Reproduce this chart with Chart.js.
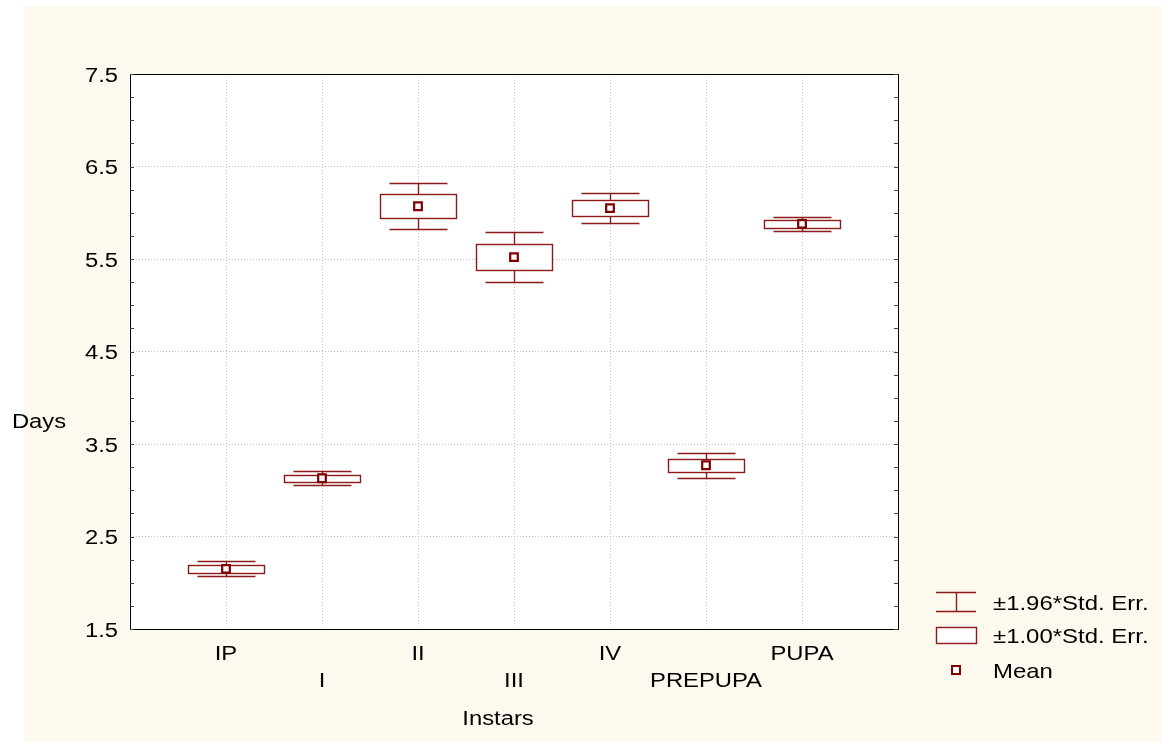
<!DOCTYPE html>
<html>
<head>
<meta charset="utf-8">
<script src="https://cdn.jsdelivr.net/npm/chart.js@4.4.1/dist/chart.umd.min.js"></script>
<style>
  html, body { margin: 0; padding: 0; background: #fff; }
  #chart { display: block; }
</style>
</head>
<body>
<canvas id="chart" width="1161" height="742"></canvas>
<script>
// data
const categories = ['IP', 'I', 'II', 'III', 'IV', 'PREPUPA', 'PUPA'];
const means = [2.15, 3.13, 6.07, 5.52, 6.05, 3.27, 5.88];
const stdErr = [0.042, 0.038, 0.128, 0.138, 0.083, 0.070, 0.040];
const yMajorTicks = [1.5, 2.5, 3.5, 4.5, 5.5, 6.5, 7.5];
const legendLabels = ['±1.96*Std. Err.', '±1.00*Std. Err.', 'Mean'];
const xTitle = 'Instars';
const yTitle = 'Days';

const LINE = '#8b1a1a';
const MEAN = '#800000';
const CREAM = '#fef9ee';
const BOX_HALF = 0.4;     // in category units
const WHISKER_HALF = 0.3;
const FAMILY = 'Arial, "Liberation Sans", sans-serif';

const isMajor = v => yMajorTicks.some(t => Math.abs(t - v) < 1e-6);

// the source text is a little wider than plain Arial, so stretch it
function wideText(ctx, text, x, y, align, size = 20, stretch = 1.19) {
    ctx.save();
    ctx.translate(x, y);
    ctx.scale(stretch, 1);
    ctx.font = size + 'px ' + FAMILY;
    ctx.fillStyle = '#000';
    ctx.textAlign = align;
    ctx.textBaseline = 'middle';
    ctx.fillText(text, 0, 0);
    ctx.restore();
}

const boxPlugin = {
    id: 'boxPlugin',
    beforeDraw(chart) {
        const { ctx, chartArea: a } = chart;
        ctx.save();
        ctx.fillStyle = '#fff';
        ctx.fillRect(0, 0, chart.width, chart.height);
        ctx.fillStyle = CREAM;
        ctx.fillRect(24, 6, chart.width - 24, chart.height - 6);
        ctx.fillStyle = '#fff';
        ctx.fillRect(a.left, a.top, a.right - a.left, a.bottom - a.top);
        ctx.restore();
    },
    beforeDatasetsDraw(chart) {
        const { ctx, scales: { x, y } } = chart;
        ctx.save();
        ctx.strokeStyle = LINE;
        ctx.lineWidth = 1.4;
        means.forEach((m, i) => {
            const cx = Math.round(x.getPixelForValue(i + 1)) + 0.5;
            const wTop = Math.round(y.getPixelForValue(m + 1.96 * stdErr[i])) + 0.5;
            const wBot = Math.round(y.getPixelForValue(m - 1.96 * stdErr[i])) + 0.5;
            const bTop = Math.round(y.getPixelForValue(m + stdErr[i])) + 0.5;
            const bBot = Math.round(y.getPixelForValue(m - stdErr[i])) + 0.5;
            const wl = Math.round(x.getPixelForValue(i + 1 - WHISKER_HALF)) + 0.5;
            const wr = Math.round(x.getPixelForValue(i + 1 + WHISKER_HALF)) + 0.5;
            const bl = Math.round(x.getPixelForValue(i + 1 - BOX_HALF)) + 0.5;
            const br = Math.round(x.getPixelForValue(i + 1 + BOX_HALF)) + 0.5;

            ctx.beginPath();
            ctx.moveTo(cx, wTop); ctx.lineTo(cx, wBot);
            ctx.moveTo(wl, wTop); ctx.lineTo(wr, wTop);
            ctx.moveTo(wl, wBot); ctx.lineTo(wr, wBot);
            ctx.stroke();

            ctx.fillStyle = '#fff';
            ctx.fillRect(bl, bTop, br - bl, bBot - bTop);
            ctx.strokeRect(bl, bTop, br - bl, bBot - bTop);
        });
        ctx.restore();
    },
    afterDraw(chart) {
        const { ctx, chartArea: a, scales: { x, y } } = chart;
        ctx.save();
        // frame
        ctx.strokeStyle = '#000';
        ctx.lineWidth = 1;
        ctx.strokeRect(Math.round(a.left) + 0.5, Math.round(a.top) + 0.5,
            Math.round(a.right - a.left), Math.round(a.bottom - a.top));
        // inner ticks every 0.25 on both sides
        ctx.strokeStyle = '#444';
        ctx.beginPath();
        y.ticks.forEach(t => {
            const py = Math.round(y.getPixelForValue(t.value)) + 0.5;
            ctx.moveTo(a.left, py); ctx.lineTo(a.left + 4, py);
            ctx.moveTo(a.right - 4, py); ctx.lineTo(a.right, py);
        });
        ctx.stroke();
        ctx.restore();

        // tick labels
        yMajorTicks.forEach(v => {
            wideText(ctx, v.toFixed(1), a.left - 12, y.getPixelForValue(v) + 2, 'right');
        });
        categories.forEach((c, i) => {
            const row = i % 2 === 1 ? 681 : 654;
            wideText(ctx, c, x.getPixelForValue(i + 1), row, 'center');
        });

        // axis titles
        wideText(ctx, yTitle, 39, 422, 'center');
        wideText(ctx, xTitle, 498, 719, 'center');

        // legend
        ctx.save();
        const lx = 936, lw = 40, tx = 993;
        ctx.strokeStyle = LINE;
        ctx.lineWidth = 1.4;
        ctx.beginPath();
        ctx.moveTo(lx, 592.5); ctx.lineTo(lx + lw, 592.5);
        ctx.moveTo(lx, 611.5); ctx.lineTo(lx + lw, 611.5);
        ctx.moveTo(lx + lw / 2 + 0.5, 592.5); ctx.lineTo(lx + lw / 2 + 0.5, 611.5);
        ctx.stroke();
        ctx.fillStyle = '#fff';
        ctx.fillRect(lx + 0.5, 627.5, lw, 16);
        ctx.strokeRect(lx + 0.5, 627.5, lw, 16);
        ctx.strokeStyle = MEAN;
        ctx.lineWidth = 2;
        ctx.fillRect(952, 666, 8, 8);
        ctx.strokeRect(952, 666, 8, 8);
        ctx.restore();

        wideText(ctx, legendLabels[0], tx, 604, 'left', 21, 1.14);
        wideText(ctx, legendLabels[1], tx, 637, 'left', 21, 1.14);
        wideText(ctx, legendLabels[2], tx, 672, 'left', 21, 1.14);
    }
};

new Chart(document.getElementById('chart'), {
    type: 'scatter',
    data: {
        datasets: [{
            label: 'Mean',
            data: means.map((m, i) => ({ x: i + 1, y: m })),
            pointStyle: 'rect',
            pointRadius: 5.4,
            pointHoverRadius: 5.4,
            borderWidth: 2.2,
            borderColor: MEAN,
            backgroundColor: '#fff'
        }]
    },
    options: {
        responsive: false,
        animation: false,
        devicePixelRatio: 1,
        layout: { padding: { left: 0, top: 74, right: 263, bottom: 0 } },
        plugins: {
            legend: { display: false },
            tooltip: { enabled: false }
        },
        scales: {
            x: {
                type: 'linear',
                min: 0,
                max: categories.length + 1,
                afterFit: s => { s.height = 113; },
                afterBuildTicks: s => {
                    s.ticks = categories.map((c, i) => ({ value: i + 1 }));
                },
                ticks: { display: false },
                grid: { color: '#c4c4c4', drawTicks: false },
                border: { display: false, dash: [1, 2] }
            },
            y: {
                min: yMajorTicks[0],
                max: yMajorTicks[yMajorTicks.length - 1],
                afterFit: s => { s.width = 130; },
                ticks: { display: false, stepSize: 0.25, autoSkip: false },
                grid: {
                    drawTicks: false,
                    color: c => (c.tick && isMajor(c.tick.value)) ? '#c4c4c4' : 'rgba(0,0,0,0)'
                },
                border: { display: false, dash: [1, 2] }
            }
        }
    },
    plugins: [boxPlugin]
});
</script>
</body>
</html>
